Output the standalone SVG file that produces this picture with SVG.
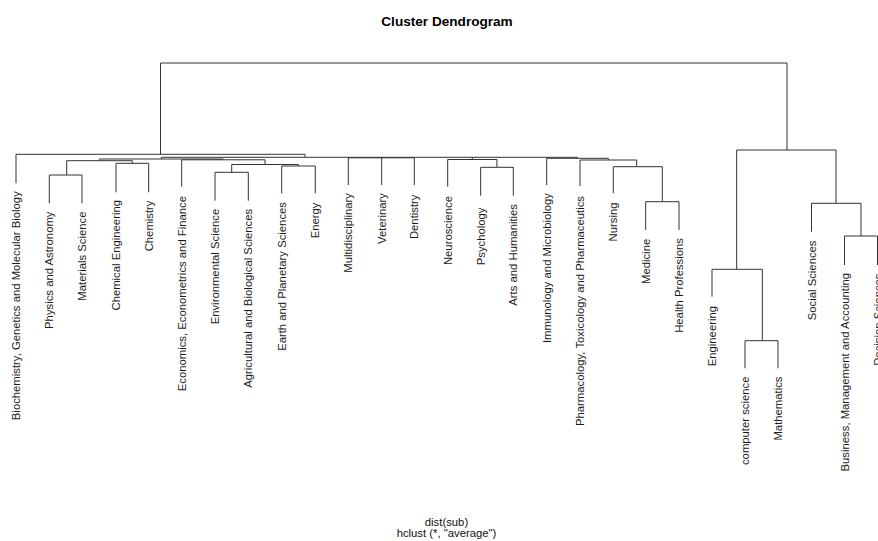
<svg xmlns="http://www.w3.org/2000/svg" width="878" height="541" viewBox="0 0 878 541">
<style>
.t{font-family:"Liberation Sans",Arial,sans-serif;fill:#000}
.title{font-size:13.6px;font-weight:bold;text-anchor:middle}
.sub{font-size:11.3px;text-anchor:middle;fill:#111}
.lab{font-size:11.3px;text-anchor:end;fill:#1a1a1a}
.ln{fill:none;stroke:#333;stroke-width:1}
</style>
<rect width="878" height="541" fill="#fff"/>
<g id="title"><text class="t title" x="447" y="25.5">Cluster Dendrogram</text></g>
<g id="connectors" class="ln">
<path d="M160.5 154.3V63H787V150"/>
<path d="M736.7 269.3V150H836V203.3"/>
<path d="M712 296.7V269.3H762.3V340.7"/>
<path d="M745 368.3V340.7H778V368.3"/>
<path d="M811.5 231.7V203.3H861V236"/>
<path d="M844.5 265V236H877.5V265"/>
<path d="M16 183.3V154.3H305V157.3"/>
<path d="M161.3 157.3H577.5V158.3"/>
<path d="M161.3 157.3V159"/>
<path d="M99.3 160.7V159H223.3V159.8"/>
<path d="M66.7 175V160.7H132.3V163.3"/>
<path d="M49.3 203.3V175H82V203.3"/>
<path d="M116 192.3V163.3H148.7V192.3"/>
<path d="M181.7 186.7V159.8H265V164.5"/>
<path d="M231.7 172.3V164.5H298.5V166"/>
<path d="M215 200.7V172.3H248.3V200.7"/>
<path d="M281.7 193.3V166H315.3V193.3"/>
<path d="M348.3 185V157.8H414.3V185M381.7 157.8V185"/>
<path d="M472.3 157.3V159.5"/>
<path d="M447.7 186.7V159.5H496.9V167.3"/>
<path d="M480.7 195.7V167.3H513.3V195.7"/>
<path d="M546.7 185V158.3H608.3V160"/>
<path d="M580 186V160H636.7V166.7"/>
<path d="M613.3 193.3V166.7H662.3V201.7"/>
<path d="M645.7 230V201.7H679V230"/>
</g>
<g id="leaf-biochemistry"><text class="t lab" transform="translate(20,191.2) rotate(-90)">Biochemistry, Genetics and Molecular Biology</text></g>
<g id="leaf-physics"><text class="t lab" transform="translate(53.3,211.5) rotate(-90)">Physics and Astronomy</text></g>
<g id="leaf-materials"><text class="t lab" transform="translate(86,211.5) rotate(-90)">Materials Science</text></g>
<g id="leaf-chemical-engineering"><text class="t lab" transform="translate(120,200) rotate(-90)">Chemical Engineering</text></g>
<g id="leaf-chemistry"><text class="t lab" transform="translate(152.7,200.5) rotate(-90)">Chemistry</text></g>
<g id="leaf-economics"><text class="t lab" transform="translate(185.7,196) rotate(-90)">Economics, Econometrics and Finance</text></g>
<g id="leaf-environmental"><text class="t lab" transform="translate(219,208.8) rotate(-90)">Environmental Science</text></g>
<g id="leaf-agricultural"><text class="t lab" transform="translate(252.3,208.8) rotate(-90)">Agricultural and Biological Sciences</text></g>
<g id="leaf-earth"><text class="t lab" transform="translate(285.7,202) rotate(-90)">Earth and Planetary Sciences</text></g>
<g id="leaf-energy"><text class="t lab" transform="translate(319.3,202.5) rotate(-90)">Energy</text></g>
<g id="leaf-multidisciplinary"><text class="t lab" transform="translate(352.3,193) rotate(-90)">Multidisciplinary</text></g>
<g id="leaf-veterinary"><text class="t lab" transform="translate(385.7,193) rotate(-90)">Veterinary</text></g>
<g id="leaf-dentistry"><text class="t lab" transform="translate(418.3,194.5) rotate(-90)">Dentistry</text></g>
<g id="leaf-neuroscience"><text class="t lab" transform="translate(451.7,196) rotate(-90)">Neuroscience</text></g>
<g id="leaf-psychology"><text class="t lab" transform="translate(484.7,207.5) rotate(-90)">Psychology</text></g>
<g id="leaf-arts"><text class="t lab" transform="translate(517.3,204) rotate(-90)">Arts and Humanities</text></g>
<g id="leaf-immunology"><text class="t lab" transform="translate(550.7,193) rotate(-90)">Immunology and Microbiology</text></g>
<g id="leaf-pharmacology"><text class="t lab" transform="translate(584,196) rotate(-90)">Pharmacology, Toxicology and Pharmaceutics</text></g>
<g id="leaf-nursing"><text class="t lab" transform="translate(617.3,202.5) rotate(-90)">Nursing</text></g>
<g id="leaf-medicine"><text class="t lab" transform="translate(649.7,238.8) rotate(-90)">Medicine</text></g>
<g id="leaf-health"><text class="t lab" transform="translate(683,238) rotate(-90)">Health Professions</text></g>
<g id="leaf-engineering"><text class="t lab" transform="translate(716,306) rotate(-90)">Engineering</text></g>
<g id="leaf-computer-science"><text class="t lab" transform="translate(749,376.5) rotate(-90)">computer science</text></g>
<g id="leaf-mathematics"><text class="t lab" transform="translate(782,376.5) rotate(-90)">Mathematics</text></g>
<g id="leaf-social"><text class="t lab" transform="translate(815.5,240.5) rotate(-90)">Social Sciences</text></g>
<g id="leaf-business"><text class="t lab" transform="translate(848.5,273) rotate(-90)">Business, Management and Accounting</text></g>
<g id="leaf-decision"><text class="t lab" transform="translate(881.5,273.5) rotate(-90)">Decision Sciences</text></g>
<g id="axis-caption">
<text class="t sub" x="446.5" y="525.5">dist(sub)</text>
<text class="t sub" x="446.5" y="537">hclust (*, "average")</text>
</g>
</svg>
